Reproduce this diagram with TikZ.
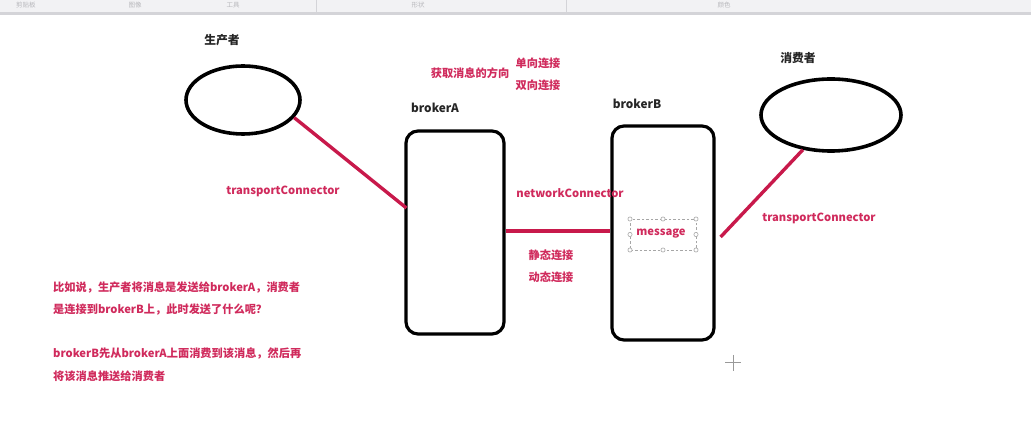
\documentclass[tikz,border=0pt]{standalone}
\usepackage{fontspec}
\usetikzlibrary{shapes.geometric,calc}
\newfontfamily\cjk{Noto Sans CJK SC}
\definecolor{redline}{HTML}{C8194B}
\definecolor{redtext}{HTML}{D02A5C}
\definecolor{barbg}{HTML}{F2F2F4}
\definecolor{barline}{HTML}{D4D4D8}
\definecolor{bartext}{HTML}{B8B8BC}
\begin{document}
\begin{tikzpicture}[x=1pt,y=-1pt,
  lbl/.style={font=\cjk\bfseries\fontsize{11.2}{13}\selectfont, inner sep=0pt},
  rlbl/.style={lbl, text=redtext},
  blbl/.style={lbl, text=black!85, font=\cjk\bfseries\fontsize{11.8}{13}\selectfont},
  para/.style={rlbl, anchor=west},
  client/.style={draw=black, line width=3.6pt, ellipse, inner sep=0pt},
  brokerbox/.style={draw=black, line width=3.2pt, rounded corners=12pt, rectangle, inner sep=0pt},
  conn/.style={draw=redline, line width=3.4pt},
  handle/.style={draw=gray!70, line width=0.6pt, fill=white, circle, inner sep=1.5pt},
  tooltxt/.style={font=\cjk\fontsize{6.5}{7}\selectfont, text=bartext, inner sep=0pt}
]
\useasboundingbox (0,0) rectangle (1031,427);
\fill[white] (0,0) rectangle (1031,427);
% toolbar
\fill[barbg] (0,0) rectangle (1031,12);
\fill[barline] (0,12) rectangle (1031,15);
\draw[barline, line width=0.6pt] (316,0) -- (316,12);
\draw[barline, line width=0.6pt] (566,0) -- (566,12);
\node[tooltxt] (tb1) at (26,5) {剪贴板};
\node[tooltxt] (tb2) at (135,5) {图像};
\node[tooltxt] (tb3) at (233,5) {工具};
\node[tooltxt] (tb4) at (418,5) {形状};
\node[tooltxt] (tb5) at (724,5) {颜色};

% producer / consumer
\node[blbl] (prodl) at (222,40) {生产者};
\node[client, minimum width=114pt, minimum height=68pt] (prod) at (243,100) {};
\node[blbl] (consl) at (798,58) {消费者};
\node[client, minimum width=140pt, minimum height=72pt] (cons) at (831,115) {};

% brokers
\node[blbl] (bal) at (435,108) {brokerA};
\node[brokerbox, minimum width=98pt, minimum height=203pt] (ba) at (455,232.5) {};
\node[blbl] (bbl) at (637,104) {brokerB};
\node[brokerbox, minimum width=102pt, minimum height=214pt] (bb) at (663,233) {};

% connectors
\draw[conn] (prod.-19) -- ($(ba.west)+(2,-24.5)$);
\draw[conn] ($(ba.east)+(0,-1.5)$) -- ($(bb.west)+(0,-2)$);
\draw[conn] (cons.-129) -- ($(bb.east)+(5,4)$);

% labels
\node[rlbl] (tcl) at (283,191) {transportConnector};
\node[rlbl] (tcr) at (819,218) {transportConnector};
\node[rlbl] (ncl) at (570,193) {networkConnector};
\node[rlbl] (st) at (551,255) {静态连接};
\node[rlbl] (dy) at (551,277) {动态连接};
\node[rlbl] (dir) at (470,73) {获取消息的方向};
\node[rlbl] (uni) at (538,63) {单向连接};
\node[rlbl] (bi) at (538,85) {双向连接};

% message selection box
\draw[gray!70, line width=0.6pt, dash pattern=on 2.5pt off 2pt] (630,219) rectangle (696,250);
\foreach \hx/\hy [count=\i] in {630/219,663/219,696/219,630/234.5,696/234.5,630/250,663/250,696/250}
  \node[handle] (h\i) at (\hx,\hy) {};
\node[rlbl] (msg) at (661,234) {message};

% paragraph
\node[para] (p1) at (53,288) {比如说，生产者将消息是发送给brokerA，消费者};
\node[para] (p2) at (53,310) {是连接到brokerB上，此时发送了什么呢？};
\node[para] (p3) at (53,354) {brokerB先从brokerA上面消费到该消息，然后再};
\node[para] (p4) at (53,376) {将该消息推送给消费者};

% cursor
\draw[gray!80, line width=1pt] (725,363) -- (741,363) (733,355) -- (733,371);
\end{tikzpicture}
\end{document}
